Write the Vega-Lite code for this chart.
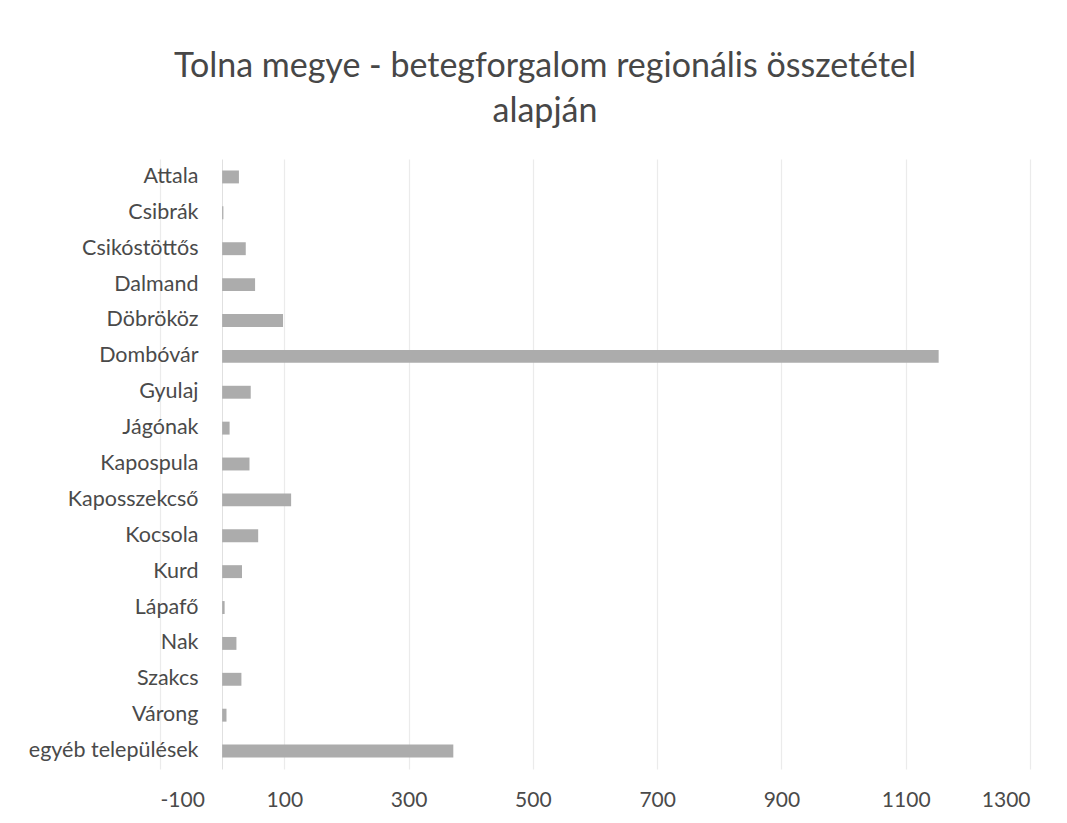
{
  "$schema": "https://vega.github.io/schema/vega-lite/v6.json",
  "autosize": {"type": "none"},
  "width": 870,
  "height": 610,
  "padding": {"left": 160, "top": 159, "right": 37, "bottom": 54},
  "background": "white",
  "title": {
    "text": ["Tolna megye - betegforgalom regionális összetétel", "alapján"],
    "anchor": "middle",
    "frame": "group",
    "dx": -50,
    "offset": 30,
    "fontSize": 34,
    "font": "Lato",
    "fontWeight": "normal",
    "color": "#474747",
    "lineHeight": 45
  },
  "data": {
    "values": [
      {"telepules": "Attala", "ertek": 27},
      {"telepules": "Csibrák", "ertek": 2},
      {"telepules": "Csikóstöttős", "ertek": 38},
      {"telepules": "Dalmand", "ertek": 53},
      {"telepules": "Döbrököz", "ertek": 98},
      {"telepules": "Dombóvár", "ertek": 1153},
      {"telepules": "Gyulaj", "ertek": 46},
      {"telepules": "Jágónak", "ertek": 12},
      {"telepules": "Kapospula", "ertek": 44},
      {"telepules": "Kaposszekcső", "ertek": 111},
      {"telepules": "Kocsola", "ertek": 58},
      {"telepules": "Kurd", "ertek": 32},
      {"telepules": "Lápafő", "ertek": 4},
      {"telepules": "Nak", "ertek": 23},
      {"telepules": "Szakcs", "ertek": 31},
      {"telepules": "Várong", "ertek": 7},
      {"telepules": "egyéb települések", "ertek": 372}
    ]
  },
  "mark": {"type": "bar", "color": "#acacac"},
  "encoding": {
    "y": {
      "field": "telepules",
      "type": "nominal",
      "sort": null,
      "title": null,
      "scale": {"paddingInner": 0.64, "paddingOuter": 0.32},
      "axis": {
        "offset": -62,
        "ticks": false,
        "domain": true,
        "domainColor": "#e0e0e0",
        "labelPadding": 24,
        "labelFont": "Lato",
        "labelFontSize": 21.5,
        "labelColor": "#4a4a4a",
        "grid": false
      }
    },
    "x": {
      "field": "ertek",
      "type": "quantitative",
      "title": null,
      "scale": {"domain": [-100, 1300], "nice": false, "zero": false},
      "axis": {
        "values": [-100, 100, 300, 500, 700, 900, 1100, 1300],
        "labelExpr": "datum.value < 0 ? '-' + abs(datum.value) : '' + datum.value",
        "ticks": false,
        "domain": false,
        "labelPadding": 20,
        "labelFont": "Lato",
        "labelFontSize": 21,
        "labelColor": "#4a4a4a",
        "grid": true,
        "gridColor": "#ebebeb",
        "gridWidth": 1.2
      }
    }
  },
  "config": {"view": {"stroke": null}}
}
